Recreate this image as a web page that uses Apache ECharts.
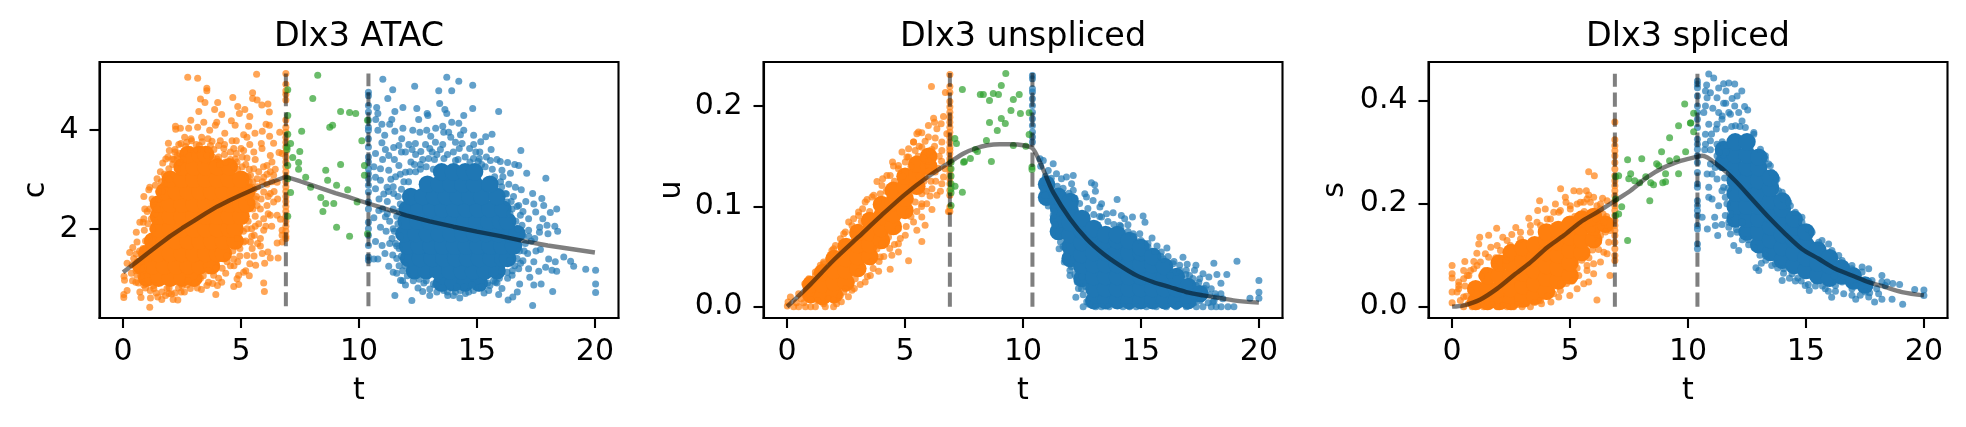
<!DOCTYPE html>
<html>
<head>
<meta charset="utf-8">
<style>html,body{margin:0;padding:0;background:#fff}#chart{width:1966px;height:427px}</style>
<script src="https://cdn.jsdelivr.net/npm/echarts@6/dist/echarts.min.js"></script>
</head>
<body>
<div id="chart"></div>
<script>
// Dlx3 dynamics along latent time: chromatin (c), unspliced (u) and spliced (s).
const xTicks = [0, 5, 10, 15, 20];
const atacTicks = [2, 4];
const unsplicedTicks = [0, 0.1, 0.2];
const splicedTicks = [0, 0.2, 0.4];
const switchTimes = [6.9, 10.4];
const atacRange = [0.43, 5.14];
const unsplicedRange = [0, 0.233];
const splicedRange = [0, 0.452];

// Fitted trajectories [t, value]
const atacCurve = [[0,1.12],[0.5,1.3],[1,1.49],[1.5,1.67],[2,1.85],[2.5,2.01],[3,2.16],[3.5,2.31],[4,2.45],[4.5,2.57],[5,2.68],[5.5,2.79],[6,2.89],[6.5,2.98],[6.9,3.05],[7.5,2.96],[8,2.88],[8.5,2.8],[9,2.72],[9.5,2.65],[10,2.57],[10.4,2.51],[11,2.42],[12,2.27],[13,2.15],[14,2.04],[15,1.94],[16,1.85],[17,1.75],[18,1.66],[19,1.59],[20,1.52]];
const unsplicedCurve = [[0,0],[0.5,0.011],[1,0.0225],[2,0.047],[3,0.069],[4,0.091],[5,0.112],[6,0.13],[6.9,0.144],[7.5,0.153],[8,0.158],[8.5,0.161],[9,0.162],[9.5,0.162],[10,0.161],[10.4,0.158],[10.72,0.144],[10.93,0.1326],[11.28,0.114],[11.99,0.0877],[12.69,0.0678],[13.4,0.0528],[14.1,0.0412],[14.81,0.0312],[15.51,0.0246],[16.22,0.0196],[16.92,0.0146],[17.63,0.0113],[18.33,0.0086],[19,0.006],[20,0.004]];
const splicedCurve = [[0,0],[0.49,0.0026],[1.2,0.014],[1.91,0.035],[2.61,0.061],[3.32,0.086],[4.03,0.115],[4.73,0.138],[5.44,0.164],[6.14,0.183],[6.92,0.206],[7.56,0.225],[8.26,0.251],[8.97,0.27],[9.68,0.283],[10.1,0.288],[10.4,0.291],[10.6,0.293],[11.3,0.2735],[12,0.2445],[12.71,0.209],[13.42,0.1735],[14.13,0.141],[14.83,0.112],[15.54,0.093],[16.25,0.0735],[16.95,0.0606],[17.66,0.0477],[18.36,0.038],[19.07,0.0284],[20,0.022]];

// Saturated middle of each cloud, where single cells merge into solid colour:
// sampled coarsely and drawn with wider dots.  ATAC rows are [c, [t...]], the others [t, [value...]].
const atacOrangeCore = [[1,[1,1.5,2,2.5,3]],[1.25,[0.75,1.25,1.75,2.25,2.75,3.25,3.75]],[1.5,[1,1.5,2,2.5,3,3.5,4,4.25]],[1.75,[1.25,1.75,2.25,2.75,3.25,3.75,4.25,4.75]],[2,[1.5,2,2.5,3,3.5,4,4.5,4.75]],[2.25,[1.5,2,2.5,3,3.5,4,4.5,5]],[2.5,[1.5,2,2.5,3,3.5,4,4.5,5,5.25]],[2.75,[1.75,2.25,2.75,3.25,3.75,4.25,4.75,5.25]],[3,[2,2.5,3,3.5,4,4.5,5]],[3.25,[2.5,3,3.5,4,4.5]],[3.5,[2.75,3.25,3.5]]];
const atacBlueCore = [[0.9,[13.5,14,14.5,15.1]],[1.15,[12.35,12.85,13.35,13.85,14.35,14.85,15.35,15.85]],[1.4,[12.1,12.6,13.1,13.6,14.1,14.6,15.1,15.6,16.1,16.3]],[1.65,[12.05,12.55,13.05,13.55,14.05,14.55,15.05,15.55,16.05,16.55]],[1.9,[11.9,12.4,12.9,13.4,13.9,14.4,14.9,15.4,15.9,16.4,16.7]],[2.15,[12,12.5,13,13.5,14,14.5,15,15.5,16,16.3]],[2.4,[12.05,12.55,13.05,13.55,14.05,14.55,15.05,15.55,16.1]],[2.65,[12.2,12.7,13.2,13.7,14.2,14.7,15.2,15.85]],[2.9,[12.9,13.4,13.9,14.4,14.9,15.55]],[3.15,[13.5,14,14.5,14.9]]];
const unsplicedOrangeCore = [[1,[0.012,0.022]],[1.5,[0.01,0.022,0.034]],[2,[0.012,0.024,0.036,0.048]],[2.5,[0.024,0.036,0.048,0.06]],[3,[0.038,0.05,0.062,0.074]],[3.5,[0.05,0.062,0.074,0.086]],[4,[0.066,0.078,0.09,0.102]],[4.5,[0.08,0.092,0.104,0.116]],[5,[0.096,0.108,0.12,0.13]],[5.5,[0.12,0.132,0.142]],[6,[0.14,0.15]]];
const unsplicedBlueCore = [[11,[0.109,0.122]],[11.5,[0.075,0.087,0.099,0.11]],[12,[0.048,0.06,0.072,0.084,0.096,0.105]],[12.5,[0.028,0.04,0.052,0.064,0.076,0.088]],[13,[0.006,0.018,0.03,0.042,0.054,0.066,0.078]],[13.5,[0.006,0.018,0.03,0.042,0.054,0.066,0.072]],[14,[0.006,0.018,0.03,0.042,0.054,0.066,0.072]],[14.5,[0.006,0.018,0.03,0.042,0.054,0.066]],[15,[0.006,0.018,0.03,0.042,0.054,0.059]],[15.5,[0.006,0.018,0.03,0.042,0.05]],[16,[0.006,0.018,0.03,0.04]],[16.5,[0.006,0.018,0.03]],[17,[0.006,0.02]],[17.5,[0.013]]];
const splicedOrangeCore = [[1,[0.01,0.035]],[1.5,[0.01,0.035,0.06]],[2,[0.01,0.035,0.06,0.085]],[2.5,[0.01,0.035,0.06,0.085,0.105]],[3,[0.015,0.04,0.065,0.09,0.115]],[3.5,[0.02,0.045,0.07,0.095,0.12]],[4,[0.03,0.055,0.08,0.105,0.13,0.145]],[4.5,[0.05,0.075,0.1,0.125,0.15]],[5,[0.06,0.085,0.11,0.135,0.16]],[5.5,[0.105,0.13,0.155,0.17]],[6,[0.13,0.155,0.175]],[6.5,[0.16]]];
const splicedBlueCore = [[11.5,[0.28,0.305]],[12,[0.17,0.195,0.22,0.245,0.27,0.295,0.32]],[12.5,[0.145,0.17,0.195,0.22,0.245,0.27,0.295,0.32]],[13,[0.12,0.145,0.17,0.195,0.22,0.245,0.27,0.29]],[13.5,[0.105,0.13,0.155,0.18,0.205,0.23,0.25]],[14,[0.09,0.115,0.14,0.165,0.19,0.205]],[14.5,[0.08,0.105,0.13,0.155,0.17]],[15,[0.07,0.095,0.12,0.145]],[15.5,[0.06,0.085,0.11]],[16,[0.055,0.08,0.095]],[16.5,[0.06,0.075]],[17,[0.05,0.06]],[17.5,[0.042]]];

// Cells pinned to the switch times, values only
const atacOrangeEdge = [5.14,4.92,4.79,4.72,4.6,4.2,4.05,3.95,3.85,3.75,3.65,3.55,3.45,3.35,3.25,3.15,3.05,2.95,2.85,2.75,2.65,2.55,2.45,2.35,2.25,2.15,2.05,1.95,1.85,1.8];
const atacBlueEdge = [4.76,4.69,4.49,4.36,4.19,4.05,3.99,3.82,3.65,3.45,3.35,3.21,3.11,3.01,2.88,2.74,2.54,2.4,2.13,2,1.87,1.66,1.43,1.36];
const unsplicedOrangeEdge = [0.2316,0.2196,0.2136,0.2046,0.199,0.194,0.189,0.184,0.179,0.174,0.169,0.164,0.159,0.156,0.1525,0.1475,0.144,0.1375,0.1325,0.1275,0.1226,0.116,0.111,0.0993,0.095];
const unsplicedBlueEdge = [0.2306,0.2272,0.2173,0.214,0.2073,0.2007,0.194,0.1874,0.1807,0.1741,0.1691,0.1641];
const splicedOrangeEdge = [0.3587,0.3239,0.3123,0.3026,0.2929,0.28,0.2671,0.2542,0.2445,0.2348,0.2252,0.2155,0.2058,0.1961,0.1865,0.1768,0.1671,0.1574,0.1477,0.1381,0.1252,0.1123,0.0994,0.0897];
const splicedBlueEdge = [0.4381,0.4316,0.4252,0.409,0.3897,0.3768,0.3639,0.3477,0.3252,0.3155,0.3058,0.2929,0.28,0.2606,0.2381,0.2316,0.2058,0.1961,0.1865,0.1768,0.1574,0.151,0.1219,0.1123];

// Individual cells [t, value]
const atacOrange = [[2.74,5.06],[3.16,5.04],[5.66,5.12],[3.55,4.84],[3.55,4.79],[3.28,4.62],[3.47,4.55],[4.01,4.55],[4.65,4.65],[5.49,4.75],[5.49,4.63],[5.68,4.6],[5.88,4.5],[6.14,4.52],[4.86,4.47],[3.88,4.41],[3.21,4.37],[4.18,4.31],[4.93,4.33],[5.16,4.41],[5.37,4.27],[6.2,4.36],[2.87,4.19],[3.42,4.15],[3.97,4.15],[3.91,4.09],[4.59,4.18],[4.75,4.09],[2.22,4.07],[2.23,4.01],[2.43,4.03],[2.78,4.03],[3.16,4.05],[3.67,3.99],[4.31,3.93],[5.32,4.07],[6.06,4.11],[6.2,4.09],[5.59,3.93],[5.9,3.97],[6.64,3.95],[6.21,3.87],[5.11,3.9],[5.25,3.85],[3.33,3.85],[2.88,3.82],[2.61,3.85],[1.92,3.73],[2.36,3.7],[1.96,3.58],[4.62,3.78],[4.8,3.78],[5.37,3.7],[5.86,3.72],[6.38,3.73],[4.12,3.78],[3.77,3.77],[3.23,3.68],[2.85,3.6],[3.7,3.68],[4.27,3.62],[4.69,3.62],[5.11,3.58],[5.54,3.55],[5.89,3.62],[6.24,3.48],[6.61,3.54],[6.74,3.52],[1.81,3.41],[1.68,3.33],[2.29,3.48],[2.4,3.35],[3.98,3.41],[4.34,3.35],[5.25,3.43],[6.1,3.28],[6.31,3.35],[1.94,3.21],[1.44,3.01],[1.13,2.84],[1.09,2.79],[0.88,2.65],[0.92,2.4],[1.02,2.35],[0.71,2.13],[0.85,2.13],[0.56,1.93],[0.9,1.97],[0.41,1.62],[0.28,1.52],[0.55,1.49],[0.17,1.3],[0.04,1.04],[0.06,0.96],[0.54,0.92],[0.17,0.75],[0.03,0.67],[0.03,0.61],[0.71,0.72],[0.76,0.61],[1.16,0.6],[1.47,0.62],[1.64,0.57],[2.12,0.57],[2.32,0.56],[1.13,0.41],[1.94,0.69],[2.46,0.72],[2.85,0.79],[3.32,0.77],[3.93,0.67],[3.62,0.92],[4.18,0.92],[3.8,0.89],[4.69,0.83],[4.9,0.87],[5.96,0.9],[5.99,0.73],[4.83,0.99],[5.11,1.12],[4.9,1.06],[4.55,1.25],[4.86,1.33],[5.37,1.29],[5.62,1.26],[6.14,1.53],[6.24,1.41],[6.57,1.41],[5.4,1.73],[5.47,1.6],[5.82,1.65],[6.53,1.71],[6.74,1.73],[5.96,1.97],[5.82,1.8],[5.56,1.87],[5.96,2.2],[6.24,2.27],[6.53,2.27],[6.67,2.19],[6.1,2.47],[6.38,2.54],[6.24,2.71],[6.74,1.97],[6.74,1.87],[5.96,2.74],[5.82,2.4],[5.25,2],[5.11,1.73],[5.25,1.46],[4.69,1.39],[5.4,3.08],[5.54,3.21],[5.68,3.01],[5.47,2.84],[6.38,3.08],[5.96,3.04],[6.53,2.94],[6.24,3.15],[6.1,2.9],[5.68,2.47],[5.4,2.54],[2.08,3.41],[2.57,3.55],[3.14,3.6],[3.56,3.48],[4.76,3.41],[4.83,3.35],[1.58,3.15],[1.37,2.88],[1.23,2.6],[1.13,2.4],[0.88,2.2],[0.59,1.73],[0.45,1.4],[0.38,1.27],[0.59,1.06],[0.88,0.86],[1.3,0.79],[1.86,0.79],[2.71,0.86],[3.28,1],[3.84,1.06],[4.41,1.33],
[2.2,3.6],[2.45,3.72],[2.65,3.66],[2.9,3.78],[3.1,3.7],[3.35,3.76],[3.6,3.82],[3.85,3.6],[4.05,3.68],[4.3,3.5],[4.55,3.55],[4.05,3.45],[4.3,3.7],[4.8,3.52],[5,3.62],[5.2,3.3],[5.05,3.45],[4.7,3.25],[5.35,3.2],[5.6,3.4],[2.1,3.3],[2.3,3.2],[1.75,3.1],[1.95,3],[2.2,3.55],[2.55,3.4],[2.3,3.42],[1.62,2.95],[1.5,2.75],[1.3,2.55],[1.35,2.3],[1.2,2.2],[1.25,2],[1.05,2.1],[1.1,1.8],[0.95,1.75],[0.85,1.6],[0.7,1.55],[0.75,1.35],[0.6,1.25],[0.55,1.15],[0.35,1.1],[0.4,0.95],[0.65,0.9],[0.75,1.05],[0.95,0.8],[1.15,0.75],[1.4,0.7],[1.65,0.72],[1.95,0.8],[2.2,0.7],[2.5,0.85],[2.75,0.95],[3.05,0.9],[3.4,1.05],[3.6,1.15],[3.95,1.2],[4.2,1.2],[4.05,1],[4.4,1.45],[4.65,1.55],[4.95,1.6],[4.85,1.8],[5.1,1.95],[5.3,2.15],[5.45,2],[5.6,2.25],[5.75,2.1],[5.5,2.4],[5.65,2.65],[5.85,2.6],[5.55,2.8],[5.7,2.85],[5.9,2.95],[5.75,3.15],[5.95,3.25],[5.35,2.95],[6.1,3.1],[6.3,2.95],[6.45,3.2],[6.15,2.65],[6.4,2.75],[6.55,2.6],[6.15,2.3],[6.05,2.05],[6.3,2.05],[5.7,1.7],[5.9,1.5],[5.55,1.45],[6,1.3],[5.2,1.15],[5.35,1.05],
[1.9,3.45],[2.15,3.4],[2.4,3.52],[2.7,3.75],[3,3.58],[3.3,3.6],[3.6,3.6],[3.8,3.45],[4.1,3.3],[4.55,3.4],[4.85,3.2],[5.05,3.25],[5.3,3.05],[5.5,2.95],[5.6,2.6],[5.6,2.05],[5.45,1.85],[5.2,1.75],[4.95,1.45],[4.7,1.25],[4.35,1.1],[4,0.85],[3.55,0.85],[3.15,0.8],[2.6,0.72],[2.35,0.8],[2.05,0.68],[1.8,0.65],[1.3,0.85],[1.05,0.95],[0.85,1.2],[1,1.55],[1.15,1.6],[1.25,1.75],[1.35,2.15],[1.45,2.4],[1.5,2.6],[1.65,2.75],[1.75,2.9]];
const atacBlue = [[11.01,5.02],[11.43,4.81],[11.22,4.63],[12.36,4.88],[13.38,4.79],[13.72,5.06],[14.23,4.98],[13.93,4.79],[14.82,4.9],[13.42,4.53],[13.64,4.41],[13.72,4.33],[14.82,4.43],[15.92,4.37],[14.44,4.29],[11.86,4.45],[12.45,4.43],[11.52,4.37],[10.75,4.45],[10.8,4.33],[12.89,4.33],[12.92,4.29],[12.53,4.21],[10.71,4.21],[11.39,4.21],[11.3,4.11],[10.97,4.11],[13.93,4.15],[14.23,4.13],[11.86,4.03],[11.52,3.97],[10.8,3.99],[12.28,3.99],[12.58,3.95],[12.87,3.99],[13.25,4.03],[13.55,4.07],[13.59,3.95],[14.44,3.99],[14.86,3.89],[15.64,3.91],[15.37,3.86],[15.16,3.76],[11.09,3.89],[11.81,3.82],[13.04,3.87],[13.89,3.85],[10.97,3.74],[11.47,3.64],[11.69,3.68],[12.11,3.7],[12.39,3.72],[12.82,3.7],[13.24,3.75],[13.55,3.7],[14.09,3.75],[14.37,3.72],[14.86,3.7],[14.69,3.62],[16.86,3.58],[15.12,3.55],[10.7,3.52],[11.12,3.6],[11.26,3.48],[11.97,3.55],[12.62,3.56],[13.1,3.55],[14.09,3.38],[15.05,3.36],[15.57,3.38],[15.99,3.36],[16.3,3.34],[16.6,3.3],[16.77,3.28],[17.11,3.12],[17.92,3.02],[16.42,3.12],[16.06,3.18],[10.63,3.25],[10.91,3.21],[11.26,3.18],[11.69,3.28],[11.97,3.14],[10.7,3.04],[10.91,2.98],[10.7,2.81],[11.19,2.84],[11.47,2.71],[16.63,2.84],[16.88,2.79],[17.36,2.71],[17.75,2.61],[17.07,2.55],[17.41,2.5],[17.83,2.47],[18.38,2.4],[18.11,2.33],[17.49,2.34],[17.79,2.2],[17.19,2.2],[16.77,2.47],[16.49,2.4],[16.28,2.54],[16.21,2.71],[16.84,2.27],[17.66,2.03],[17.97,2.07],[18.3,2.05],[18.42,1.95],[18.01,1.9],[17.65,1.93],[17.19,1.97],[16.91,2.07],[10.84,2.37],[10.63,2.22],[11.12,2.24],[10.91,2.03],[10.7,1.74],[10.98,1.66],[11.4,1.8],[11.43,1.47],[10.63,1.39],[10.8,1.39],[11.26,1.24],[11.45,1.12],[11.76,0.96],[11.97,0.86],[11.52,0.65],[12.24,0.55],[12.7,0.73],[13,0.65],[13.59,0.75],[13.76,0.65],[14.09,0.72],[14.27,0.6],[14.51,0.69],[15.5,0.75],[15.92,0.67],[16.06,0.79],[16.32,0.56],[16.52,0.62],[16.71,0.72],[16.81,0.88],[17.36,0.45],[17.41,0.86],[17.72,0.88],[18.21,0.73],[17.24,1.02],[17.62,1.14],[17.91,1.22],[18.18,1.16],[18.38,1.14],[18.32,1.33],[18.04,1.39],[18.68,1.43],[18.97,1.34],[19.1,1.24],[19.61,1.18],[20.03,1.16],[20.03,0.88],[20.03,0.71],[17.69,1.58],[17.41,1.33],[16.77,1.19],[17.19,1.19],[16.49,1.06],[16.28,1.12],[13.24,0.86],[14.79,0.86],[15.78,0.92],
[12.4,3.5],[12.7,3.4],[13,3.62],[13.2,3.4],[13.45,3.6],[13.75,3.5],[14,3.55],[14.25,3.62],[14.5,3.45],[14.7,3.35],[14.95,3.55],[15.2,3.3],[15.4,3.45],[15.65,3.2],[15.85,3.4],[16.1,3.05],[16.35,2.9],[16.05,2.85],[16.55,2.65],[16.4,2.3],[16.95,2.35],[16.65,2.15],[16.95,1.85],[17.3,1.75],[17.15,1.5],[16.8,1.55],[17.5,1.55],[17.45,1.8],[16.95,1.35],[16.6,1.25],[16.3,1],[16.05,1.15],[15.85,0.9],[15.55,0.85],[15.3,0.7],[15.05,0.8],[14.65,0.72],[14.3,0.75],[14,0.65],[13.75,0.72],[13.3,0.72],[13,0.78],[12.75,0.9],[12.5,0.8],[12.3,0.95],[12.05,1.05],[11.85,1.15],[11.7,1.25],[11.6,1.4],[11.7,1.6],[11.55,1.7],[11.75,1.85],[11.45,2],[11.3,2.15],[11.6,2.25],[11.45,2.4],[11.75,2.5],[11.2,2.55],[11.8,2.8],[11.95,2.65],[12.1,2.95],[12.4,3.15],[12.6,3.2],[12.2,3.35],[11.75,3.1],[12.85,3.25],[13.15,3.2],[11.05,2.7],[11.35,3],[11,3.4],[11.5,3.4],[11.8,3.55],[12.25,3.6],[10.85,2.6],[11,2.4],[11.15,1.95],[11.1,1.5],[11.6,1.1],[11.85,0.95],[15.6,3.6],[14.3,3.9],[13.8,3.95],
[12.6,3.3],[12.95,3.42],[13.3,3.5],[13.6,3.42],[14.2,3.4],[14.85,3.42],[15.1,3.42],[15.35,3.25],[15.75,3.05],[16,2.95],[16.25,2.7],[16.45,2.55],[16.7,2.45],[16.75,2],[17.05,1.7],[17.2,1.85],[17,1.55],[16.85,1.3],[16.5,1.15],[16.4,1.35],[16.7,1.4],[15.95,1],[15.7,0.95],[15.45,0.9],[15.2,0.82],[14.85,0.75],[14.45,0.82],[14.15,0.82],[13.55,0.8],[13.15,0.88],[12.85,0.95],[12.55,0.98],[11.95,1.25],[11.8,1.45],[11.6,1.65],[11.5,1.95],[11.65,2.1],[11.7,2.35],[11.65,2.65],[11.9,2.95],[12.15,3.15],[12.35,3.3],[11.45,2.85],[11.2,2.3],[11.3,1.7],[11.25,2.75],[11.55,3.05]];
const atacGreen = [[8.25,5.1],[6.98,4.81],[8.04,4.63],[9.22,4.37],[9.6,4.35],[9.86,4.33],[6.98,4.29],[8.76,4.05],[8.88,4.09],[7.57,3.97],[6.98,3.91],[10.12,3.78],[7.1,3.72],[6.95,3.65],[6.95,3.6],[7.49,3.56],[7.19,3.44],[7.44,3.34],[9.22,3.3],[6.98,3.28],[7.44,3.2],[8.59,3.18],[7.74,3.04],[6.98,3.01],[8.67,2.98],[9.05,2.88],[7.95,2.84],[9.52,2.79],[7.1,2.73],[8.38,2.63],[9.92,2.54],[8.59,2.51],[8.93,2.51],[8.47,2.35],[6.98,2.25],[9.05,2.03],[9.6,1.85],[10.23,3.28],[10.23,3.08],[10.36,1.9],[10.36,4.19]];

const unsplicedOrange = [[6.12,0.2196],[6.71,0.2136],[6.63,0.1897],[6.21,0.188],[5.99,0.1807],[6.35,0.1774],[6.25,0.184],[6.53,0.1824],[5.57,0.1741],[5.71,0.1734],[6.77,0.1724],[5.99,0.1691],[6.28,0.1681],[5.36,0.1641],[6.56,0.1641],[4.87,0.1542],[5.15,0.1492],[5.71,0.1591],[6.14,0.1568],[6.56,0.1558],[4.47,0.1442],[4.51,0.1402],[3.81,0.1249],[4.05,0.1276],[3.39,0.107],[3.6,0.1093],[3.2,0.0977],[2.61,0.0844],[2.47,0.0744],[2.05,0.0611],[1.76,0.0478],[1.55,0.0429],[1.2,0.0312],[0.75,0.0229],[0.49,0.013],[0.14,0.0096],[0.04,0.0047],[0.01,0.0007],[0.28,0],[0.49,0],[0.78,0],[1,0],[1.2,0],[1.97,0],[1.62,0],[1.97,0.0063],[2.4,0.0146],[2.75,0.0163],[3.31,0.0246],[3.53,0.0312],[3.88,0.0352],[4.37,0.0372],[5.15,0.0458],[4.44,0.0512],[4.72,0.0545],[5.71,0.0651],[3.95,0.0495],[4.72,0.0628],[5.01,0.0711],[5.5,0.0761],[5.85,0.0811],[5.36,0.0844],[5.71,0.0894],[6.14,0.097],[5.71,0.1027],[5.92,0.1027],[6.35,0.111],[6.06,0.1103],[6.14,0.1176],[6.84,0.095],[5.71,0.1126],[6.56,0.1226],[6.63,0.1292],[6.7,0.1375],[6.28,0.1342],[5.99,0.1409],[5.85,0.1292],[5.43,0.1043],[5.15,0.0944],[4.72,0.0777],[4.3,0.0694],[4.02,0.0628],[3.81,0.0578],[3.57,0.0445],[3.03,0.0346],[2.89,0.0279],[2.47,0.0179],[2.26,0.0113],[4.72,0.1375],[4.23,0.1309],[5.15,0.1575],[5.43,0.1558],[5.01,0.1442],[3.03,0.0944],[2.82,0.0877],[2.26,0.0678],[1.9,0.0561],[1.41,0.0412],[0.92,0.0279],[3.95,0.1126],
[1.2,0.0346],[1.55,0.0445],[1.97,0.0578],[2.4,0.0728],[2.75,0.081],[3.03,0.091],[3.31,0.1043],[3.67,0.111],[4.02,0.1209],[4.37,0.1309],[4.72,0.1409],[5.08,0.1492],[5.36,0.1641],[5.5,0.1724],[5.6,0.16],[5.85,0.165],[6.05,0.155],[6.25,0.16],[5.8,0.148],[6,0.145],[6.2,0.15],[6.45,0.15],[6.4,0.138],[6.55,0.145],[5.25,0.14],[5.55,0.15],[4.9,0.13],[4.55,0.125],[4.2,0.115],[3.85,0.105],[3.5,0.095],[3.15,0.085],[2.8,0.072],[2.45,0.062],[2.1,0.052],[1.7,0.04],[1.35,0.03],[0.8,0.016],[0.6,0.008],[0.4,0.004],[0.7,0.004],[1,0.007],[1.3,0.006],[1.55,0.003],[1.75,0.008],[2.1,0.003],[2.3,0.005],[2.6,0.01],[2.85,0.018],[3.1,0.022],[3.4,0.03],[3.65,0.038],[3.9,0.045],[4.1,0.05],[4.35,0.058],[4.55,0.062],[4.8,0.068],[5.05,0.08],[5.25,0.09],[5.5,0.095],[5.7,0.1],[5.9,0.115],[5.6,0.118],[5.8,0.125],[6.1,0.125],[6.3,0.125],[6.5,0.115],[6,0.135],[5.6,0.13]];
const unsplicedBlue = [[10.72,0.1475],[10.86,0.1458],[11.28,0.1425],[11.07,0.1359],[11.42,0.1326],[11.84,0.1292],[12.13,0.1309],[11.63,0.1276],[12.06,0.1226],[12.9,0.1236],[13.04,0.1216],[13.07,0.115],[12.13,0.116],[12.62,0.1126],[12.69,0.1093],[13.99,0.107],[12.97,0.106],[13.33,0.1027],[13.26,0.0993],[13.82,0.0937],[13.54,0.0927],[14.17,0.091],[14.64,0.0894],[15.09,0.0904],[15.17,0.0841],[14.45,0.0817],[14.31,0.0877],[13.33,0.0894],[14.1,0.0811],[14.95,0.0728],[15.47,0.0684],[15.3,0.0595],[15.68,0.0605],[16.1,0.0585],[15.86,0.0545],[14.67,0.0728],[15.94,0.0478],[16.78,0.0492],[18.09,0.0432],[19.07,0.0452],[16.96,0.0422],[17.33,0.0412],[16.64,0.0412],[16.36,0.0429],[16.92,0.0362],[17.27,0.0362],[17.63,0.0329],[18.22,0.0322],[18.64,0.0322],[17.88,0.0296],[18.39,0.0233],[17.49,0.0279],[17.77,0.0213],[17.98,0.0179],[18.39,0.013],[18.19,0.0096],[20,0.0262],[20,0.0143],[20,0.0083],[19.62,0.0083],[11.07,0.1003],[10.86,0.1176],[10.93,0.111],[11.28,0.091],[11.35,0.0817],[11.59,0.0645],[11.53,0.0578],[11.75,0.0445],[11.99,0.0362],[11.99,0.0312],[12.3,0.0246],[12.48,0.0179],[12.24,0.0093],[12.55,0],[12.8,0.0023],[13.09,0],[13.33,0],[13.65,0],[14.24,0],[14.52,0],[14.8,0],[15.23,0],[15.65,0],[16.08,0],[16.5,0],[16.92,0],[17.35,0],[17.63,0],[17.98,0],[18.19,0],[18.4,0],[18.69,0],[18.94,0],[17.2,0.0113],[17.56,0.008],[18.05,0.0047],[18.47,0.008],[17.34,0.0213],[17.06,0.0312],[16.5,0.0346],[16.22,0.0312],
[10.75,0.14],[10.95,0.13],[11.2,0.128],[11.45,0.12],[11.7,0.118],[11.95,0.113],[12.2,0.108],[12.4,0.103],[12.75,0.098],[13,0.092],[13.25,0.09],[13.6,0.085],[13.85,0.082],[14.15,0.08],[14.45,0.075],[14.7,0.07],[15,0.066],[15.3,0.063],[15.6,0.055],[15.85,0.05],[16.15,0.05],[16.4,0.045],[16.65,0.036],[16.9,0.032],[17.2,0.028],[17.45,0.024],[17.7,0.018],[17.9,0.012],[18.15,0.013],[18.1,0.006],[17.85,0.004],[17.5,0.006],[17.25,0.004],[16.6,0.002],[11.2,0.105],[11.3,0.095],[11.5,0.07],[11.7,0.06],[11.85,0.05],[12.05,0.04],[12.2,0.032],[12.35,0.018],[12.55,0.012],[12.7,0.005],[12.65,0.02],[12.5,0.03]];
const unsplicedGreen = [[9.27,0.2326],[9.08,0.2206],[7.43,0.2166],[8.19,0.2116],[8.32,0.2116],[8.74,0.2126],[8.96,0.2116],[9.84,0.2116],[9.59,0.2066],[8.58,0.2056],[9.49,0.1957],[9.89,0.1927],[9.08,0.1877],[8.58,0.1837],[9.25,0.1827],[8.91,0.1757],[7.11,0.1678],[8.45,0.1658],[7.18,0.1628],[9.59,0.1608],[7.98,0.1568],[8.07,0.1548],[7.77,0.1478],[7.52,0.1448],[7.48,0.1439],[8.66,0.1448],[6.95,0.144],[6.95,0.1375],[6.95,0.1302],[6.95,0.1226],[7.12,0.12],[6.95,0.1176],[7.43,0.114],[6.95,0.1136],[6.95,0.101],[10.26,0.1934],[10.26,0.1718],[10.12,0.1601],[10.38,0.1392],[10.38,0.1369]];

const splicedOrange = [[5.79,0.262],[6.03,0.2542],[4.6,0.229],[5.16,0.2252],[5.4,0.2239],[5.69,0.2252],[5.79,0.2168],[4.8,0.2123],[3.71,0.2058],[4.38,0.1994],[3.95,0.1897],[3.63,0.1865],[4.83,0.2026],[6.38,0.2103],[6.57,0.2058],[4.03,0.1703],[3.25,0.1716],[2.7,0.1535],[1.89,0.1523],[1.55,0.1387],[1.17,0.1348],[1.13,0.1219],[2.15,0.1348],[2.53,0.14],[1.64,0.1155],[1.05,0.1039],[0.54,0.0877],[0.92,0.0877],[0,0.08],[0,0.0639],[0,0.0555],[0.49,0.0703],[0.28,0.0477],[0,0.0284],[0,0.0077],[0.21,0.0284],[0.49,0.0187],[0.28,0.0348],[0.71,0.0606],[6.14,0.0129],[4.99,0.0219],[4.52,0.0187],[4.19,0.009],[3.79,0.0058],[3.32,0],[2.61,0],[1.91,0],[1.34,0],[0.85,0],[0.49,0],[2.33,0],[2.97,0],[4.59,0.0316],[5.3,0.0348],[5.58,0.0445],[5.79,0.0477],[6,0.0639],[6.69,0.0606],[5.37,0.0606],[5.72,0.0703],[6.29,0.0865],[6,0.0832],[5.72,0.08],[6.43,0.1058],[6.57,0.1026],[6.21,0.111],[6.64,0.1252],[6.29,0.1381],[6.71,0.1477],[6.43,0.1639],[6.14,0.1961],[5.86,0.2026],[5.58,0.2026],[6.29,0.1897],[5.3,0.1994],[5.01,0.1961],[4.59,0.1865],[4.31,0.1832],[3.6,0.1639],[3.32,0.1574],[2.9,0.1445],[2.33,0.1284],[1.91,0.1187],[1.41,0.1026],[1.06,0.08],[0.78,0.0703],[0.49,0.0542],
[0.28,0.0413],[0.64,0.0606],[0.92,0.0735],[1.2,0.0865],[1.55,0.0961],[2.05,0.109],[2.47,0.1187],[2.9,0.1316],[3.32,0.1445],[3.75,0.1574],[4.17,0.1703],[4.52,0.1832],[5.01,0.1897],[5.44,0.2026],[5.72,0.209],[6,0.2123],[6.29,0.1994],[5.2,0.175],[5.6,0.185],[5.9,0.18],[6.1,0.17],[6.4,0.18],[6.55,0.175],[6.3,0.155],[6.5,0.145],[6.2,0.125],[5.95,0.11],[5.8,0.095],[5.5,0.09],[5.3,0.075],[5.1,0.05],[4.85,0.045],[4.6,0.045],[4.3,0.025],[4.05,0.02],[3.75,0.012],[3.5,0.008],[3.15,0.006],[2.8,0.004],[2.15,0.002],[1.7,0.004],[1.05,0.003],[0.7,0.006],[0.35,0.012],[0.6,0.02],[0.8,0.03],[0.55,0.04],[1.25,0.06],[1.4,0.07],[1.8,0.078],[1.85,0.095],[2.3,0.09],[6.15,0.14],[5.95,0.15]];
const splicedBlue = [[10.88,0.4516],[11.09,0.4439],[10.79,0.4303],[11.51,0.4329],[11.73,0.4342],[11.98,0.4323],[11.3,0.4245],[11.61,0.4187],[12.28,0.4187],[12.08,0.409],[11.87,0.4039],[10.74,0.4187],[10.95,0.4155],[10.81,0.4058],[11.23,0.4058],[11.51,0.3948],[11.98,0.3897],[12.4,0.3884],[12.53,0.3819],[10.74,0.3897],[10.67,0.3768],[11.3,0.3768],[11.73,0.3768],[12.15,0.3768],[10.88,0.3542],[11.23,0.3542],[12.29,0.3606],[12.79,0.3381],[10.74,0.3348],[10.95,0.3219],[10.74,0.3155],[11.23,0.3155],[10.71,0.3045],[10.95,0.3045],[13.28,0.2929],[13.42,0.2768],[13.56,0.2606],[11.23,0.2929],[10.95,0.2768],[10.81,0.2574],[11.02,0.2574],[11.23,0.2477],[13.7,0.2413],[13.84,0.2252],[14.06,0.209],[10.88,0.2316],[11.44,0.2252],[10.88,0.2123],[11.02,0.209],[11.58,0.2123],[11.51,0.2316],[14.83,0.1735],[14.34,0.1961],[15.12,0.151],[15.54,0.1252],[15.96,0.1219],[16.39,0.0994],[16.95,0.08],[17.38,0.0768],[17.66,0.0735],[18.22,0.0606],[18.68,0.0452],[18.97,0.0432],[18.44,0.0477],[19.61,0.0335],[20,0.0323],[20,0.0219],[19.1,0.0045],[18.65,0.0142],[18.22,0.0142],[17.91,0.009],[17.66,0.0187],[17.11,0.0142],[16.09,0.0181],[15.82,0.0348],[15.14,0.0316],[14.97,0.0413],[14.66,0.0555],[13.99,0.051],[14.41,0.0639],[14.06,0.0735],[13.7,0.0832],[13,0.0703],[12.88,0.0755],[13.11,0.0845],[13.28,0.0994],[12.15,0.109],[11.94,0.1187],[12.57,0.12],[11.26,0.1381],[10.82,0.151],[10.6,0.1735],[11.16,0.1574],[11.44,0.1594],[11.73,0.1639],[11.73,0.1542],[11.13,0.1735],[11.58,0.1768],[11.3,0.1961],[11.8,0.1413],[12.08,0.1445],[12.29,0.1639],[16.53,0.0477],[16.95,0.0348],[17.52,0.0284],[18.08,0.0252],[16.25,0.0413],[18.36,0.0413],
[11.44,0.3639],[11.8,0.3735],[11.58,0.3445],[12.01,0.351],[12.43,0.3477],[12.79,0.3348],[13.07,0.3058],[13.28,0.2865],[13.49,0.2735],[13.77,0.2477],[13.99,0.2219],[14.27,0.2026],[14.55,0.1832],[14.83,0.1639],[15.26,0.1445],[15.68,0.1284],[16.1,0.109],[16.53,0.0897],[16.95,0.0735],[17.38,0.0671],[17.8,0.051],[18.22,0.0477],[11.2,0.345],[11,0.335],[11.45,0.32],[11.3,0.3],[11.6,0.3],[11.15,0.27],[11.45,0.27],[11.55,0.25],[11.7,0.23],[11.65,0.2],[11.8,0.18],[11.75,0.26],[11.05,0.385],[11.45,0.37],[11.6,0.395],[11.85,0.35],[12.2,0.35],[12.05,0.15],[12.3,0.13],[12.55,0.13],[12.8,0.115],[13.05,0.1],[13.3,0.09],[13.55,0.08],[13.8,0.075],[14.05,0.065],[14.3,0.055],[14.55,0.05],[14.8,0.05],[15.1,0.043],[15.4,0.04],[15.7,0.04],[15.95,0.03],[16.25,0.03],[16.6,0.025],[16.95,0.022],[17.3,0.022],[17.7,0.027],[18,0.035],[17.4,0.05],[17.1,0.04],[16.6,0.06],[16.2,0.06]];
const splicedGreen = [[9.86,0.3935],[9.6,0.351],[10.1,0.3568],[9.22,0.3277],[8.88,0.3006],[9.9,0.3006],[7.44,0.2852],[8.04,0.2871],[8.67,0.2774],[8.76,0.2735],[9.22,0.2832],[9.52,0.2871],[9.05,0.2581],[9.6,0.2581],[7.57,0.2581],[7.06,0.2542],[7.49,0.2484],[6.93,0.2523],[7.74,0.2445],[8.21,0.2523],[7.95,0.2406],[8.42,0.2406],[8.54,0.2368],[8.93,0.2406],[9.05,0.2426],[8.38,0.2058],[6.93,0.209],[7.19,0.1942],[7.06,0.18],[6.93,0.1768],[7.44,0.1284],[10.24,0.3755],[10.12,0.3568],[10.24,0.3394]];

const ORANGE = '#ff7f0e', BLUE = '#1f77b4', GREEN = '#2ca02c';
const FONT = '"DejaVu Sans", sans-serif';
const DOT = 7, CORE_DOT = 17.5;

const fromRows = rows => rows.flatMap(([y, ts]) => ts.map(t => [t, y]));
const fromCols = cols => cols.flatMap(([t, ys]) => ys.map(y => [t, y]));
const pinned = (t, ys) => ys.map(y => [t, y]);

const panels = [
  { title: 'Dlx3 ATAC', yName: 'c', left: 99.5, yMin: 0.195, yMax: 5.37, ticks: atacTicks, digits: 0, nameGap: 48, smooth: false,
    curve: atacCurve, range: atacRange, green: atacGreen,
    orange: atacOrange, blue: atacBlue, orangeEdge: atacOrangeEdge, blueEdge: atacBlueEdge,
    orangeCore: fromRows(atacOrangeCore), blueCore: fromRows(atacBlueCore) },
  { title: 'Dlx3 unspliced', yName: 'u', left: 763.5, yMin: -0.0113, yMax: 0.244, ticks: unsplicedTicks, digits: 1, nameGap: 76, smooth: 0.3,
    curve: unsplicedCurve, range: unsplicedRange, green: unsplicedGreen,
    orange: unsplicedOrange, blue: unsplicedBlue, orangeEdge: unsplicedOrangeEdge, blueEdge: unsplicedBlueEdge,
    orangeCore: fromCols(unsplicedOrangeCore), blueCore: fromCols(unsplicedBlueCore) },
  { title: 'Dlx3 spliced', yName: 's', left: 1428.5, yMin: -0.022, yMax: 0.475, ticks: splicedTicks, digits: 1, nameGap: 78, smooth: 0.3,
    curve: splicedCurve, range: splicedRange, green: splicedGreen,
    orange: splicedOrange, blue: splicedBlue, orangeEdge: splicedOrangeEdge, blueEdge: splicedBlueEdge,
    orangeCore: fromCols(splicedOrangeCore), blueCore: fromCols(splicedBlueCore) }
];

const PANEL_W = 519, PANEL_TOP = 62, PANEL_H = 256;
const axisText = { color: '#000', fontFamily: FONT, fontSize: 30 };
const grids = [], xAxes = [], yAxes = [], titles = [], series = [];

panels.forEach((p, i) => {
  grids.push({ left: p.left, top: PANEL_TOP, width: PANEL_W, height: PANEL_H, show: true,
    borderColor: '#000', borderWidth: 2.1, backgroundColor: '#fff', containLabel: false });
  titles.push({ text: p.title, left: p.left + PANEL_W / 2, top: 21, textAlign: 'center', padding: 0,
    textStyle: { color: '#000', fontFamily: FONT, fontSize: 33.4, fontWeight: 'normal' } });
  xAxes.push({ gridIndex: i, type: 'value', min: -1, max: 21, name: 't', nameLocation: 'middle', nameGap: 58, nameMoveOverlap: false,
    nameTextStyle: axisText, splitLine: { show: false },
    axisLine: { show: true, onZero: false, lineStyle: { color: '#000', width: 2.1 } },
    axisTick: { show: true, length: 10, lineStyle: { color: '#000', width: 2.1 }, customValues: xTicks },
    axisLabel: { ...axisText, margin: 19, customValues: xTicks, formatter: v => String(v) } });
  yAxes.push({ gridIndex: i, type: 'value', min: p.yMin, max: p.yMax, name: p.yName, nameLocation: 'middle', nameGap: p.nameGap, nameMoveOverlap: false,
    nameTextStyle: axisText, splitLine: { show: false },
    axisLine: { show: true, onZero: false, lineStyle: { color: '#000', width: 2.1 } },
    axisTick: { show: true, length: 10, lineStyle: { color: '#000', width: 2.1 }, customValues: p.ticks },
    axisLabel: { ...axisText, margin: 21, customValues: p.ticks, formatter: v => v.toFixed(p.digits) } });

  const dots = (data, color, size, opacity, z) => ({ type: 'scatter', xAxisIndex: i, yAxisIndex: i, data, symbol: 'circle',
    symbolSize: size, z, silent: true, itemStyle: { color, opacity, borderWidth: 0 } });
  series.push(dots(p.orangeCore, ORANGE, CORE_DOT, 1, 2));
  series.push(dots(p.blueCore, BLUE, CORE_DOT, 1, 2));
  series.push(dots(p.orange, ORANGE, DOT, 0.7, 3));
  series.push(dots(pinned(switchTimes[0], p.orangeEdge), ORANGE, DOT, 0.7, 3));
  series.push(dots(p.blue, BLUE, DOT, 0.7, 3));
  series.push(dots(pinned(switchTimes[1], p.blueEdge), BLUE, DOT, 0.7, 3));
  series.push(dots(p.green, GREEN, DOT, 0.7, 4));
  series.push({ type: 'line', xAxisIndex: i, yAxisIndex: i, data: p.curve, showSymbol: false, silent: true, z: 5, smooth: p.smooth,
    lineStyle: { color: 'rgba(0,0,0,0.5)', width: 4.4 } });
  switchTimes.forEach(t => series.push({ type: 'line', xAxisIndex: i, yAxisIndex: i, showSymbol: false, silent: true, z: 6,
    data: p.range.map(y => [t, y]),
    lineStyle: { color: 'rgba(0,0,0,0.5)', width: 4, type: [14.2, 5.8], cap: 'butt' } }));
});

echarts.init(document.getElementById('chart'), null, { renderer: 'canvas' }).setOption({
  animation: false, backgroundColor: '#fff', title: titles, grid: grids, xAxis: xAxes, yAxis: yAxes, series
});
</script>
</body>
</html>
